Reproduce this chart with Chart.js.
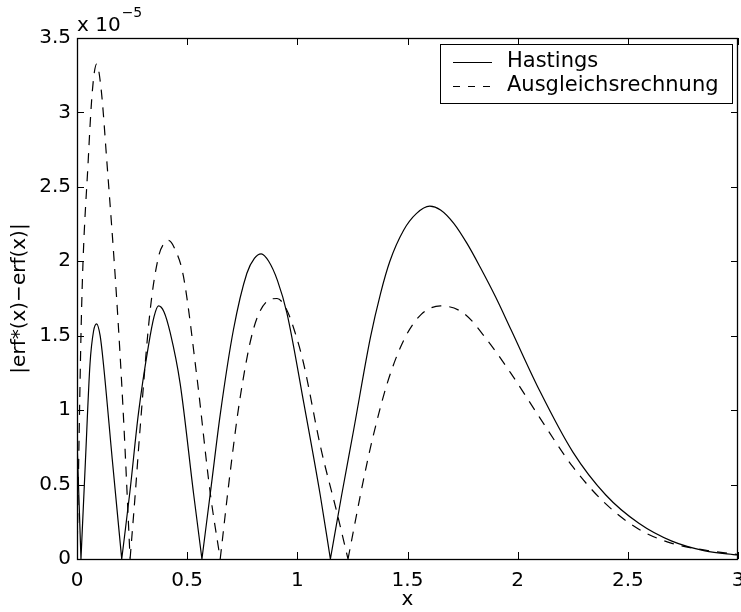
<!DOCTYPE html>
<html>
<head>
<meta charset="utf-8">
<script src="https://cdn.jsdelivr.net/npm/chart.js@4.4.1/dist/chart.umd.min.js"></script>
<style>
  body { margin: 0; background: #fff; }
</style>
</head>
<body>
<canvas id="chart" width="741" height="612"></canvas>
<script>
// values in units of 1e-5 (see "x 10^-5" above the axis)
const hastingsX = [0, 0.018, 0.038, 0.059, 0.075, 0.089, 0.105, 0.12, 0.16, 0.203,
    0.24, 0.279, 0.324, 0.35, 0.37, 0.395, 0.423, 0.468, 0.529, 0.567,
    0.61, 0.65, 0.71, 0.771, 0.805, 0.836, 0.87, 0.91, 0.953, 1.029, 1.105, 1.15,
    1.2, 1.256, 1.332, 1.377, 1.42, 1.483, 1.54, 1.601, 1.65, 1.71, 1.77, 1.83, 1.9, 1.97,
    2.1, 2.25, 2.4, 2.55, 2.7, 2.85, 3.0];
const hastingsY = [0.8, 0, 0.65, 1.31, 1.53, 1.58, 1.50, 1.31, 0.67, 0,
    0.45, 0.98, 1.43, 1.63, 1.70, 1.66, 1.52, 1.18, 0.44, 0,
    0.5, 0.97, 1.54, 1.92, 2.02, 2.05, 2.0, 1.87, 1.65, 1.05, 0.42, 0,
    0.42, 0.87, 1.49, 1.78, 2.00, 2.21, 2.32, 2.37, 2.345, 2.255, 2.12, 1.96, 1.76, 1.54,
    1.13, 0.72, 0.43, 0.24, 0.12, 0.055, 0.027];

const ausgleichX = [0, 0.021, 0.051, 0.07, 0.089, 0.11, 0.135, 0.18, 0.21, 0.241,
    0.265, 0.286, 0.332, 0.37, 0.395, 0.415, 0.445, 0.483, 0.544, 0.605, 0.65,
    0.695, 0.741, 0.80, 0.862, 0.908, 0.95, 0.99, 1.029, 1.105, 1.18, 1.23,
    1.30, 1.34, 1.408, 1.483, 1.56, 1.65, 1.756, 1.862, 1.968,
    2.1, 2.25, 2.4, 2.55, 2.7, 2.85, 3.0];
const ausgleichY = [0, 1.69, 2.68, 3.15, 3.325, 3.15, 2.68, 1.75, 0.98, 0,
    0.45, 0.87, 1.67, 2.03, 2.12, 2.14, 2.08, 1.90, 1.225, 0.44, 0,
    0.58, 1.09, 1.54, 1.73, 1.75, 1.68, 1.52, 1.31, 0.755, 0.31, 0,
    0.53, 0.80, 1.18, 1.47, 1.64, 1.70, 1.65, 1.47, 1.25,
    0.95, 0.62, 0.37, 0.20, 0.105, 0.06, 0.03];

const seriesNames = ['Hastings', 'Ausgleichsrechnung'];

const FONT = "'DejaVu Sans', sans-serif";

// break the line at every interior zero so the curve keeps its sharp V there
function toPoints(xs, ys) {
    const pts = [];
    xs.forEach((x, i) => {
        pts.push({ x: x, y: ys[i] });
        if (ys[i] === 0 && i > 0 && i < xs.length - 1) {
            pts.push({ x: x, y: null });
            pts.push({ x: x, y: 0 });
        }
    });
    return pts;
}

// MATLAB style box with inward ticks, exponent label and legend
const matlabFrame = {
    id: 'matlabFrame',
    afterDraw(chart) {
        const ctx = chart.ctx;
        const a = chart.chartArea;
        const xs = chart.scales.x;
        const ys = chart.scales.y;
        const tl = 7;
        ctx.save();
        ctx.strokeStyle = '#000';
        ctx.lineWidth = 1;
        ctx.beginPath();
        xs.ticks.forEach(t => {
            const px = Math.round(xs.getPixelForValue(t.value)) + 0.5;
            ctx.moveTo(px, a.bottom); ctx.lineTo(px, a.bottom - tl);
            ctx.moveTo(px, a.top); ctx.lineTo(px, a.top + tl);
        });
        ys.ticks.forEach(t => {
            const py = Math.round(ys.getPixelForValue(t.value)) + 0.5;
            ctx.moveTo(a.left, py); ctx.lineTo(a.left + tl, py);
            ctx.moveTo(a.right, py); ctx.lineTo(a.right - tl, py);
        });
        ctx.stroke();
        ctx.lineWidth = 1.3;
        ctx.strokeRect(Math.round(a.left) + 0.5, Math.round(a.top) + 0.5,
            Math.round(a.right - a.left) - 1, Math.round(a.bottom - a.top));

        // exponent
        ctx.fillStyle = '#000';
        ctx.textBaseline = 'alphabetic';
        ctx.textAlign = 'left';
        ctx.font = '20px ' + FONT;
        ctx.fillText('x 10', a.left, 31);
        const w = ctx.measureText('x 10').width;
        ctx.font = '14px ' + FONT;
        ctx.fillText('\u22125', a.left + w + 1, 17);

        // legend
        const lx = 440, ly = 44, lw = 292, lh = 59;
        ctx.fillStyle = '#fff';
        ctx.fillRect(lx, ly, lw, lh);
        ctx.lineWidth = 1;
        ctx.strokeStyle = '#000';
        ctx.strokeRect(lx + 0.5, ly + 0.5, lw, lh);
        ctx.font = '21px ' + FONT;
        ctx.textBaseline = 'middle';
        chart.data.datasets.forEach((ds, i) => {
            const cy = 62 + i * 24;
            ctx.beginPath();
            ctx.setLineDash(ds.borderDash ? [7, 8] : []);
            ctx.lineWidth = ds.borderWidth;
            ctx.moveTo(453, cy + 0.5);
            ctx.lineTo(492, cy + 0.5);
            ctx.stroke();
            ctx.setLineDash([]);
            ctx.fillStyle = '#000';
            ctx.fillText(ds.label, 507, cy);
        });
        ctx.restore();
    }
};

new Chart(document.getElementById('chart'), {
    type: 'line',
    data: {
        datasets: [
            {
                label: seriesNames[0],
                data: toPoints(hastingsX, hastingsY),
                borderColor: '#000',
                borderWidth: 1.2,
                pointRadius: 0,
                cubicInterpolationMode: 'monotone',
                fill: false
            },
            {
                label: seriesNames[1],
                data: toPoints(ausgleichX, ausgleichY),
                borderColor: '#000',
                borderWidth: 1.2,
                borderDash: [10, 8],
                pointRadius: 0,
                cubicInterpolationMode: 'monotone',
                fill: false
            }
        ]
    },
    options: {
        responsive: false,
        animation: false,
        layout: { padding: { top: 38, right: 3, left: 0, bottom: 0 } },
        plugins: {
            legend: { display: false },
            tooltip: { enabled: false }
        },
        scales: {
            x: {
                type: 'linear',
                min: 0,
                max: 3,
                grid: { display: true, drawOnChartArea: false, drawTicks: false },
                border: { display: false },
                ticks: {
                    stepSize: 0.5,
                    color: '#000',
                    padding: 10,
                    maxRotation: 0,
                    font: { family: FONT, size: 20 },
                    callback: v => String(v)
                },
                title: {
                    display: true,
                    text: 'x',
                    color: '#000',
                    padding: { top: 0, bottom: 0 },
                    font: { family: FONT, size: 20 }
                },
                afterFit: s => { s.height = 53; s.paddingLeft = 0; s.paddingRight = 0; }
            },
            y: {
                min: 0,
                max: 3.5,
                grid: { display: true, drawOnChartArea: false, drawTicks: false },
                border: { display: false },
                ticks: {
                    stepSize: 0.5,
                    color: '#000',
                    padding: 6,
                    font: { family: FONT, size: 20 },
                    callback: v => String(v)
                },
                title: {
                    display: true,
                    text: '|erf*(x)\u2212erf(x)|',
                    color: '#000',
                    padding: { top: 8, bottom: 0 },
                    font: { family: FONT, size: 20 }
                },
                afterFit: s => { s.width = 77; s.paddingTop = 0; s.paddingBottom = 0; }
            }
        }
    },
    plugins: [matlabFrame]
});
</script>
</body>
</html>
